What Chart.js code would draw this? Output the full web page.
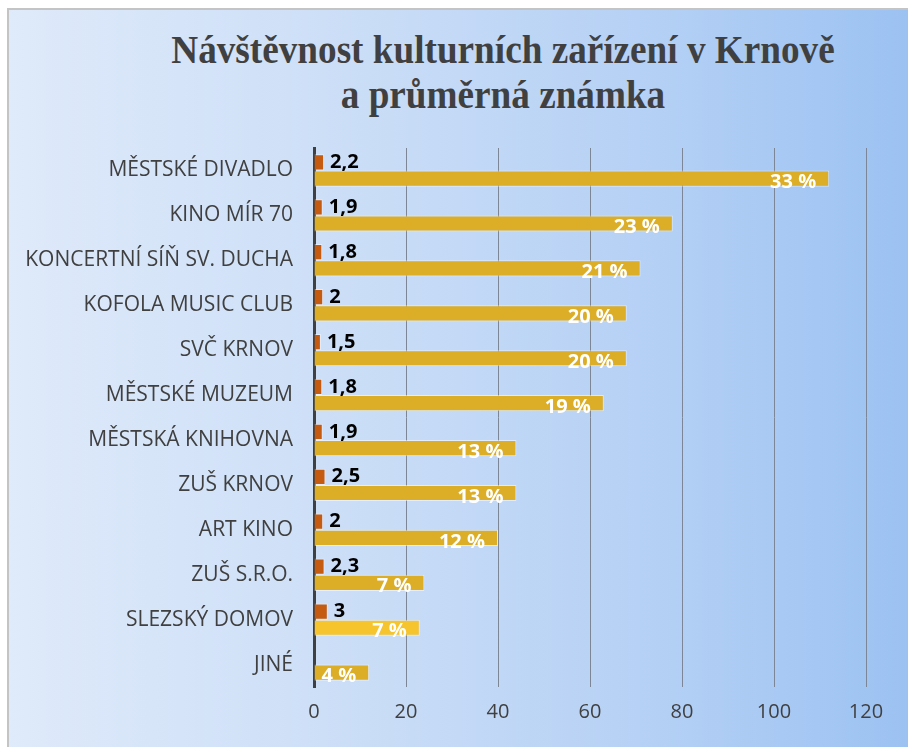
<!DOCTYPE html>
<html>
<head>
<meta charset="utf-8">
<script src="https://cdn.jsdelivr.net/npm/chart.js@4.4.1/dist/chart.umd.min.js"></script>
<style>
  html,body{margin:0;padding:0;width:908px;height:747px;overflow:hidden;background:#fff}
  #box{position:absolute;left:7px;top:8px;width:899px;height:737px;
       border-left:2px solid #c4c4c4;border-top:2px solid #c4c4c4;
       background:linear-gradient(to right,#dfeafa 0%,#cddff7 35%,#b6d1f5 70%,#9cc2f2 100%)}
  #title{position:absolute;left:94px;top:17px;width:800px;text-align:center;
         font:bold 40px 'Liberation Serif',serif;line-height:45px;color:#404040;
         transform:scaleX(0.93);transform-origin:50% 0}
  canvas{position:absolute;left:0;top:0}
</style>
</head>
<body>
<div id="box">
  <div id="title">Návštěvnost kulturních zařízení v Krnově<br>a průměrná známka</div>
  <canvas id="c" width="899" height="737"></canvas>
</div>
<script>
// venues, top to bottom
const venues=['MĚSTSKÉ DIVADLO','KINO MÍR 70','KONCERTNÍ SÍŇ SV. DUCHA','KOFOLA MUSIC CLUB','SVČ KRNOV',
  'MĚSTSKÉ MUZEUM','MĚSTSKÁ KNIHOVNA','ZUŠ KRNOV','ART KINO','ZUŠ S.R.O.','SLEZSKÝ DOMOV','JINÉ'];
// average grade (orange bars), none for JINÉ
const grades=[2.2,1.9,1.8,2,1.5,1.8,1.9,2.5,2,2.3,3,null];
// visitor counts (gold bars)
const visits=[112,78,71,68,68,63,44,44,40,24,23,12];
// share labels shown on the gold bars
const shares=[33,23,21,20,20,19,13,13,12,7,7,4];
const xTicks=[0,20,40,60,80,100,120];

const GOLD='#DCAE27', GOLD_HI='#F6C42C', RUST='#C55A11', INK='#404040';
const FONT="'Open Sans',sans-serif";

const barLabels={id:'barLabels',afterDatasetsDraw(chart){
  const ctx=chart.ctx; ctx.save();
  ctx.font='bold 20px '+FONT; ctx.textBaseline='middle';
  chart.getDatasetMeta(0).data.forEach((b,i)=>{
    if(grades[i]==null) return;
    ctx.fillStyle='#000'; ctx.textAlign='left';
    ctx.fillText(String(grades[i]).replace('.',','),b.x+6,b.y);
  });
  chart.getDatasetMeta(1).data.forEach((b,i)=>{
    ctx.fillStyle='#fff'; ctx.textAlign='right';
    ctx.fillText(shares[i]+' %',b.x-13,b.y+4);
  });
  ctx.restore();
}};

new Chart(document.getElementById('c'),{type:'bar',
  data:{labels:venues,datasets:[
    {label:'Průměrná známka',data:grades,backgroundColor:RUST,borderColor:'rgba(255,255,255,0.45)',borderWidth:1},
    {label:'Návštěvnost',data:visits,backgroundColor:visits.map((v,i)=>i===10?GOLD_HI:GOLD),
     borderColor:'rgba(255,255,255,0.5)',borderWidth:1}
  ]},
  options:{indexAxis:'y',animation:false,responsive:false,
    datasets:{bar:{categoryPercentage:0.72,barPercentage:1}},
    layout:{padding:{top:138,right:42,bottom:10,left:0}},
    plugins:{legend:{display:false},title:{display:false},tooltip:{enabled:false}},
    scales:{
      x:{min:0,max:120,afterBuildTicks:s=>{s.ticks=xTicks.map(v=>({value:v}));},
         ticks:{color:INK,font:{family:FONT,size:20},padding:13},
         grid:{color:'#7d8696',lineWidth:1,drawTicks:false},border:{display:false}},
      y:{ticks:{color:INK,font:{family:FONT,size:21},padding:21},
         grid:{display:false,drawTicks:false},border:{display:true,color:INK,width:3},
         afterFit:s=>{s.width=305;}}
    }},
  plugins:[barLabels]
});
</script>
</body>
</html>
